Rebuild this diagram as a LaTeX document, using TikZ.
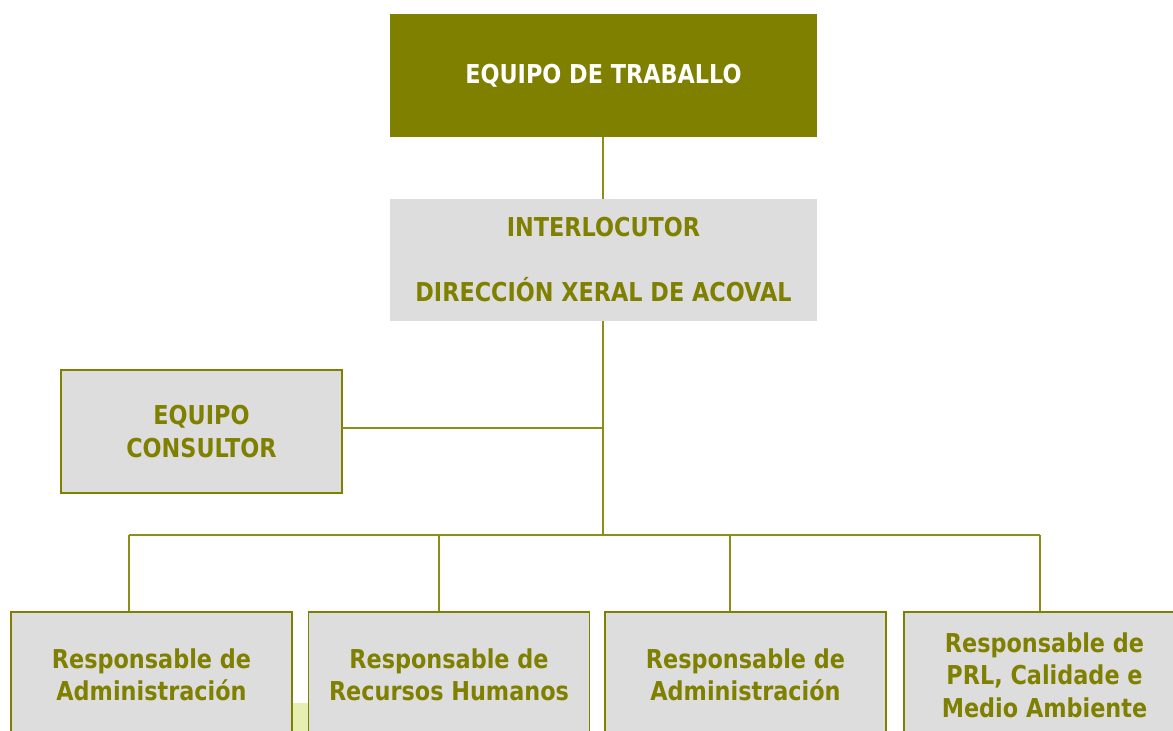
\documentclass[tikz,border=0pt]{standalone}
\usepackage{fontspec}
\setmainfont{DejaVu Sans}[FakeStretch=0.86]
\definecolor{oliv}{HTML}{808000}
\definecolor{boxgray}{HTML}{DDDDDD}
\definecolor{limepatch}{HTML}{E6EFB0}
\begin{document}
\begin{tikzpicture}[x=1pt,y=-1pt,
  every node/.style={font=\fontsize{26}{32.5}\selectfont\bfseries, align=center, inner sep=0pt},
  topbox/.style={fill=oliv, text=white, minimum width=427pt, minimum height=123pt},
  graybox/.style={fill=boxgray, text=oliv, minimum width=281pt, minimum height=123pt},
  bordered/.style={draw=oliv, line width=1.5pt},
  link/.style={draw=oliv!90!white, line width=1.6pt}]
\useasboundingbox (0,0) rectangle (1173,731);
\clip (0,0) rectangle (1173,731);
\fill[limepatch] (293,703) rectangle (308,740);
\node[topbox] (top) at (603.5,75.5) {EQUIPO DE TRABALLO};
\node[graybox, minimum width=427pt, minimum height=122pt] (inter) at (603.5,260) {INTERLOCUTOR\\[32.5pt]DIRECCIÓN XERAL DE ACOVAL};
\node[graybox, bordered] (cons) at (201.5,431.5) {EQUIPO\\CONSULTOR};
\node[graybox, bordered, minimum height=126pt] (b1) at (151.5,675) {Responsable de\\Administración};
\node[graybox, bordered, minimum height=126pt] (b2) at (449,675) {Responsable de\\Recursos Humanos};
\node[graybox, bordered, minimum height=126pt] (b3) at (745.5,675) {Responsable de\\Administración};
\node[graybox, bordered, minimum height=126pt] (b4) at (1044.5,675) {Responsable de\\PRL, Calidade e\\Medio Ambiente};
\coordinate (j) at (603,535);
\coordinate (c) at (342,428);
\coordinate (d1) at (129,535);
\coordinate (d2) at (439,535);
\coordinate (d3) at (730,535);
\coordinate (d4) at (1040,535);
\draw[link] (top.south -| j) -- (inter.north -| j);
\draw[link] (inter.south -| j) -- (j);
\draw[link] (c) -- (c -| j);
\draw[link] (d1) -- (d4);
\draw[link] (d1) -- (d1 |- b1.north);
\draw[link] (d2) -- (d2 |- b2.north);
\draw[link] (d3) -- (d3 |- b3.north);
\draw[link] (d4) -- (d4 |- b4.north);
\end{tikzpicture}
\end{document}
